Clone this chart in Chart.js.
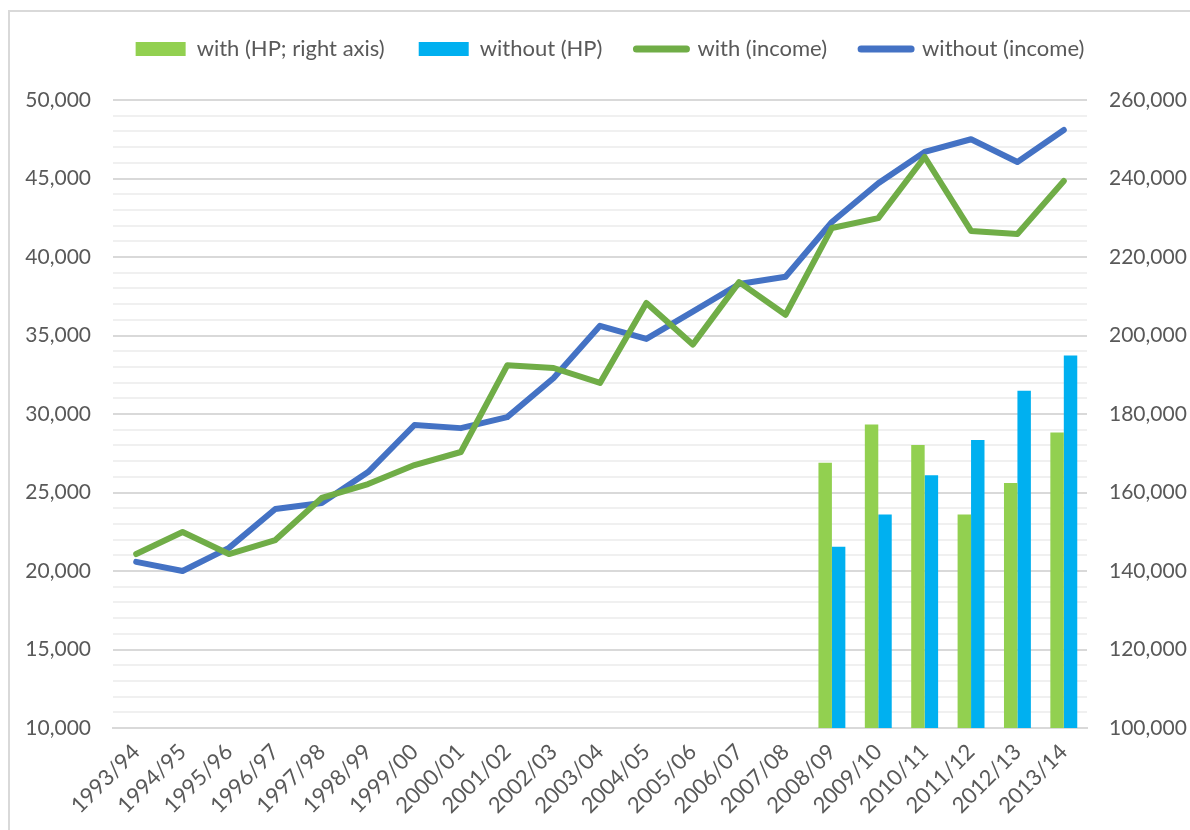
<!DOCTYPE html>
<html>
<head>
<meta charset="utf-8">
<script src="https://cdn.jsdelivr.net/npm/chart.js@4"></script>
<style>
  html, body { margin: 0; padding: 0; background: #fff; }
  #wrap { position: relative; width: 1190px; height: 830px; overflow: hidden; }
  #frame { position: absolute; left: 8px; top: 10px; width: 1300px; height: 900px;
           border-left: 2px solid #d9d9d9; border-top: 2px solid #d9d9d9; }
  #chart { position: absolute; left: 0; top: 0; }
</style>
</head>
<body>
<div id="wrap">
  <div id="frame"></div>
  <canvas id="chart" width="1190" height="830"></canvas>
</div>
<script>
const years = [
  "1993/94", "1994/95", "1995/96", "1996/97", "1997/98", "1998/99", "1999/00",
  "2000/01", "2001/02", "2002/03", "2003/04", "2004/05", "2005/06", "2006/07",
  "2007/08", "2008/09", "2009/10", "2010/11", "2011/12", "2012/13", "2013/14",
];

// house prices, right axis (only from 2008/09)
const withHp = [
  null, null, null, null, null, null, null, null, null, null, null, null, null, null, null,
  167600, 177300, 172100, 154400, 162400, 175300,
];
const withoutHp = [
  null, null, null, null, null, null, null, null, null, null, null, null, null, null, null,
  146200, 154400, 164400, 173400, 185900, 194900,
];

// income, left axis
const withIncome = [
  21080, 22480, 21080, 21970, 24650, 25540, 26750, 27580, 33100, 32930, 31980,
  37070, 34420, 38400, 36320, 41850, 42480, 46370, 41660, 41460, 44840,
];
const withoutIncome = [
  20580, 20000, 21470, 23950, 24330, 26300, 29300, 29100, 29800, 32290, 35620,
  34780, 36520, 38280, 38740, 42230, 44700, 46690, 47500, 46050, 48090,
];

const GREY = "#595959";
const FONT = "Lato";

const datasets = [
  {
    type: "bar",
    label: "with (HP; right axis)",
    data: withHp,
    backgroundColor: "#92D050",
    yAxisID: "y2",
  },
  {
    type: "bar",
    label: "without (HP)",
    data: withoutHp,
    backgroundColor: "#00B0F0",
    yAxisID: "y2",
  },
  {
    type: "line",
    label: "with (income)",
    data: withIncome,
    borderColor: "#70AD47",
    backgroundColor: "#70AD47",
    yAxisID: "y",
  },
  {
    type: "line",
    label: "without (income)",
    data: withoutIncome,
    borderColor: "#4472C4",
    backgroundColor: "#4472C4",
    yAxisID: "y",
  },
];

datasets.forEach((ds) => {
  if (ds.type === "line") {
    ds.borderWidth = 6;
    ds.pointRadius = 0;
    ds.tension = 0;
    ds.borderCapStyle = "round";
    ds.borderJoinStyle = "round";
  } else {
    ds.categoryPercentage = 0.58;
    ds.barPercentage = 1.0;
  }
});

const fmt = (v) => Number(v).toLocaleString("en-US");

// extra room under the legend and a small shift right, like the spreadsheet original
const legendGap = {
  id: "legendGap",
  beforeInit(chart) {
    const fit = chart.legend.fit;
    chart.legend.fit = function () {
      fit.bind(chart.legend)();
      this.height += 30;
    };
  },
  afterLayout(chart) {
    chart.legend.left += 30;
  },
};

new Chart(document.getElementById("chart"), {
  data: { labels: years, datasets },
  plugins: [legendGap],
  options: {
    responsive: false,
    animation: false,
    layout: { padding: { top: 4, left: 0, right: 0, bottom: 0 } },
    plugins: {
      tooltip: { enabled: false },
      legend: {
        position: "top",
        labels: {
          usePointStyle: true,
          pointStyleWidth: 50,
          boxHeight: 14,
          padding: 34,
          color: GREY,
          font: { family: FONT, size: 22 },
          generateLabels: (chart) =>
            chart.data.datasets.map((ds, i) => ({
              text: ds.label,
              fillStyle: ds.backgroundColor,
              strokeStyle: ds.backgroundColor,
              lineWidth: ds.type === "line" ? 7 : 0,
              lineCap: "round",
              pointStyle: ds.type === "line" ? "line" : "rect",
              fontColor: GREY,
              hidden: false,
              datasetIndex: i,
            })),
        },
      },
    },
    scales: {
      x: {
        offset: true,
        grid: { display: false },
        border: { display: true, color: "#d9d9d9", width: 2 },
        ticks: {
          color: GREY,
          font: { family: FONT, size: 22 },
          minRotation: 45,
          maxRotation: 45,
          autoSkip: false,
        },
        afterFit: (s) => { s.height = 102; },
      },
      y: {
        position: "left",
        min: 10000,
        max: 50000,
        border: { display: false },
        grid: {
          color: (c) => (c.tick.value % 5000 === 0 ? "#d9d9d9" : "#f0f0f0"),
          lineWidth: 2,
          drawTicks: false,
        },
        ticks: {
          stepSize: 1000,
          autoSkip: false,
          padding: 22,
          color: GREY,
          font: { family: FONT, size: 21 },
          callback: (v) => (v % 5000 === 0 ? fmt(v) : ""),
        },
        afterFit: (s) => { s.width = 113; },
      },
      y2: {
        position: "right",
        min: 100000,
        max: 260000,
        border: { display: false },
        grid: { drawOnChartArea: false, drawTicks: false },
        ticks: {
          stepSize: 20000,
          padding: 22,
          color: GREY,
          font: { family: FONT, size: 21 },
          callback: (v) => fmt(v),
        },
        afterFit: (s) => { s.width = 103; },
      },
    },
  },
});
</script>
</body>
</html>
